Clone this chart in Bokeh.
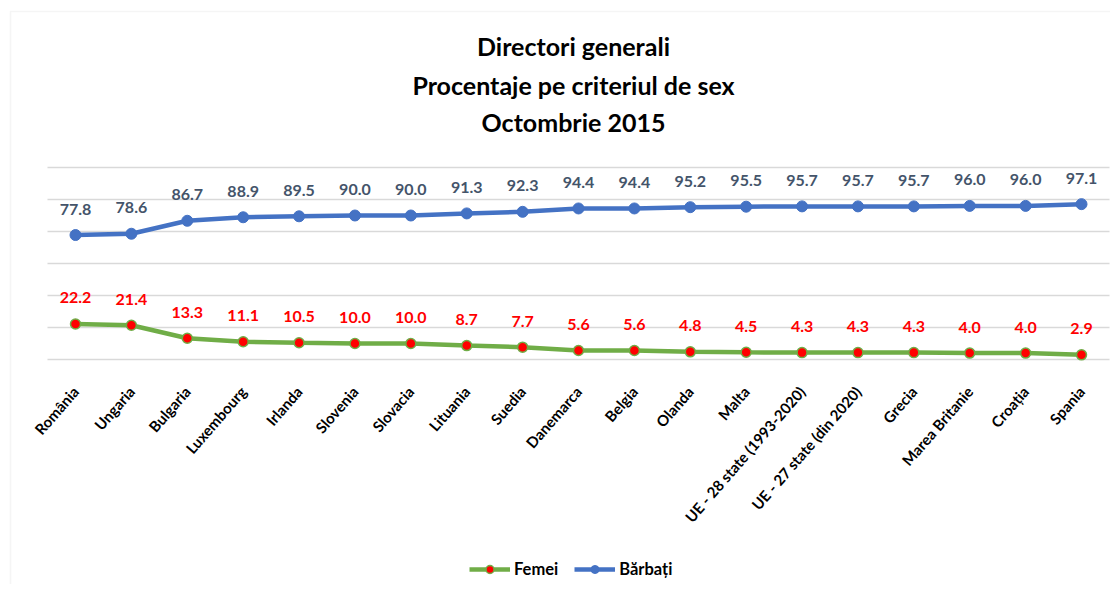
from bokeh.plotting import figure
from bokeh.models import (Range1d, FixedTicker, Label, Legend, LegendItem,
                          ColumnDataSource, BoxAnnotation)
from bokeh.core.properties import value
from bokeh.embed import file_html
from bokeh.resources import INLINE

categories = ["România", "Ungaria", "Bulgaria", "Luxembourg", "Irlanda", "Slovenia",
              "Slovacia", "Lituania", "Suedia", "Danemarca", "Belgia", "Olanda", "Malta",
              "UE - 28 state (1993-2020)", "UE - 27 state (din 2020)", "Grecia",
              "Marea Britanie", "Croația", "Spania"]
femei = [22.2, 21.4, 13.3, 11.1, 10.5, 10.0, 10.0, 8.7, 7.7, 5.6, 5.6, 4.8, 4.5,
         4.3, 4.3, 4.3, 4.0, 4.0, 2.9]
barbati = [77.8, 78.6, 86.7, 88.9, 89.5, 90.0, 90.0, 91.3, 92.3, 94.4, 94.4, 95.2,
           95.5, 95.7, 95.7, 95.7, 96.0, 96.0, 97.1]
y_ticks = [0, 20, 40, 60, 80, 100, 120]
titles = ["Directori generali", "Procentaje pe criteriul de sex", "Octombrie 2015"]

FONT = "Lato"
BLUE = "#4472C4"
GREEN = "#70AD47"

# layout (pixels)
W, H = 1110, 584
FIRST_PX, LAST_PX = 75, 1081
Y0_PX, Y120_PX = 359, 167
n = len(categories)
dx = (LAST_PX - FIRST_PX) / (n - 1)
k = (Y0_PX - Y120_PX) / 120.0


def xdata(px):
    return (px - FIRST_PX) / dx


def ydata(px):
    return 120 + (Y120_PX - px) / k


idx = list(range(n))
src = ColumnDataSource(dict(
    x=idx, f=femei, b=barbati,
    fl=[f"{v:.1f}" for v in femei], bl=[f"{v:.1f}" for v in barbati]))

p = figure(frame_width=W, frame_height=H,
           x_range=Range1d(xdata(0), xdata(W)),
           y_range=Range1d(ydata(H), ydata(0)), output_backend="svg",
           toolbar_location=None, y_axis_location=None,
           min_border_left=0, min_border_right=0, min_border_bottom=0, min_border_top=0)
p.outline_line_color = None
p.xgrid.grid_line_color = None
p.ygrid.ticker = FixedTicker(ticks=y_ticks)
p.ygrid.cross_bounds = (-0.5, n - 0.5)
p.ygrid.grid_line_color = "#d9d9d9"
p.ygrid.grid_line_width = 1.5

# chart border
p.add_layout(BoxAnnotation(left=xdata(10), right=xdata(W + 20), top=ydata(11),
                           bottom=ydata(H + 20), fill_alpha=0,
                           line_color="#dedede", line_width=1.5))

xa = p.xaxis[0]
xa.fixed_location = 0
xa.ticker = FixedTicker(ticks=idx)
xa.major_label_overrides = {i: c for i, c in zip(idx, categories)}
xa.axis_line_color = None
xa.major_tick_line_color = None
xa.minor_tick_line_color = None
xa.major_label_orientation = 0.855
xa.major_label_text_font = FONT
xa.major_label_text_font_style = "bold"
xa.major_label_text_font_size = "15px"
xa.major_label_text_color = "#000000"
xa.major_label_standoff = 23

lb = p.line("x", "b", source=src, line_color=BLUE, line_width=4.5)
sb = p.scatter("x", "b", source=src, size=11, fill_color=BLUE, line_color=BLUE)
lf = p.line("x", "f", source=src, line_color=GREEN, line_width=4.5)
sf = p.scatter("x", "f", source=src, size=10, fill_color="#FF0000", line_color=GREEN,
               line_width=1.5)

p.text("x", "b", text="bl", source=src, y_offset=-26, text_align="center",
       text_baseline="middle", text_font=value(FONT), text_font_style="bold",
       text_font_size="16px", text_color="#44546A")
p.text("x", "f", text="fl", source=src, y_offset=-26, text_align="center",
       text_baseline="middle", text_font=value(FONT), text_font_style="bold",
       text_font_size="16px", text_color="#FF0000")

for txt, py in zip(titles, [45, 84, 121]):
    p.add_layout(Label(x=xdata(573), y=ydata(py), text=txt, text_align="center",
                       text_baseline="middle", text_font=FONT, text_font_style="bold",
                       text_font_size="25px", text_color="#000000"))

legend = Legend(items=[LegendItem(label="Femei", renderers=[lf, sf]),
                       LegendItem(label="Bărbați", renderers=[lb, sb])],
                location=(469, 5), orientation="horizontal",
                label_text_font=FONT, label_text_font_style="bold",
                label_text_font_size="16.5px", label_text_color="#000000",
                glyph_width=41, glyph_height=20, label_standoff=4, spacing=16,
                padding=4, margin=0, border_line_color=None,
                background_fill_alpha=0)
p.add_layout(legend, "center")

open("out.html", "w").write(file_html(p, INLINE))
